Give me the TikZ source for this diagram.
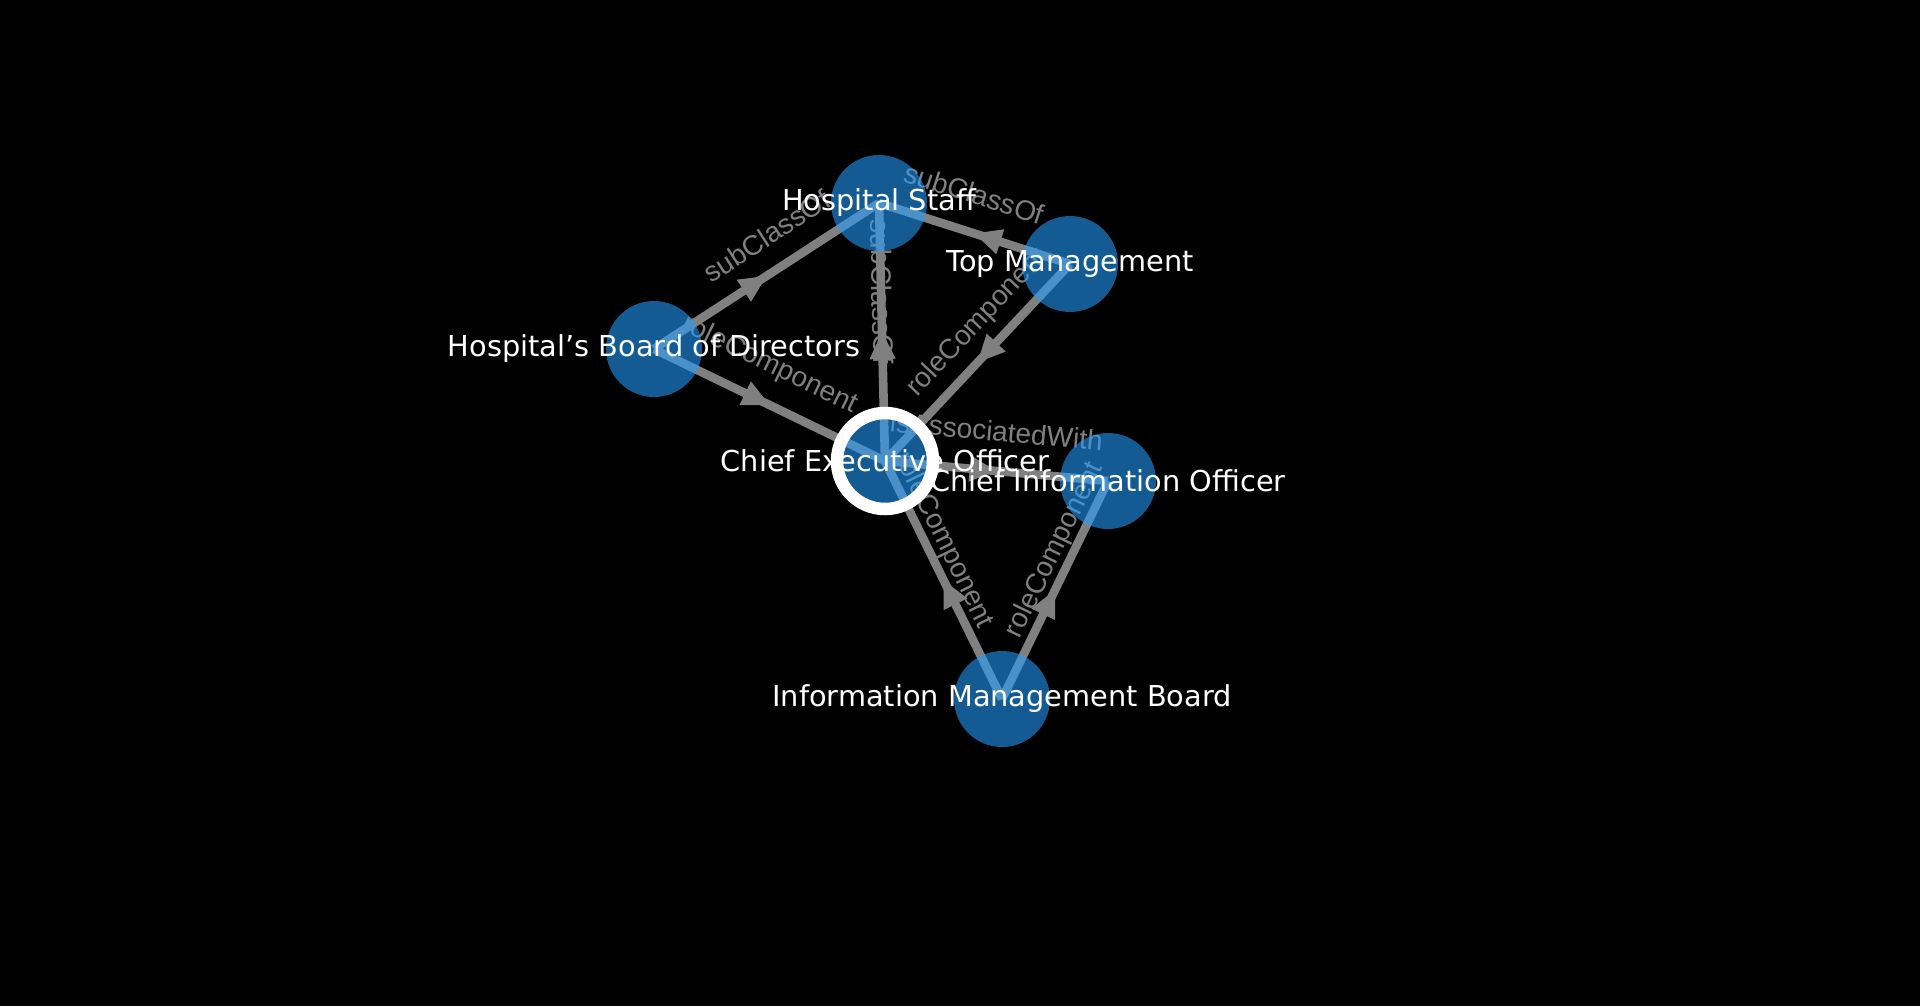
\documentclass[tikz,border=0pt]{standalone}
\usepackage{fontspec}
\setmainfont{DejaVu Sans}
\newfontfamily\edgefont{Liberation Sans}
\usetikzlibrary{arrows.meta, decorations.markings}
\tikzset{>=stealth}
\pgfdeclarelayer{background}
\pgfsetlayers{background,main}
\definecolor{nodeblue}{RGB}{35,158,255}
\definecolor{edgegray}{RGB}{128,128,128}
\tikzset{
  vertex/.style={circle, fill=nodeblue, fill opacity=0.58, minimum size=48pt, inner sep=0pt},
  vlabel/.style={text=white, font=\fontsize{14.4}{16}\selectfont},
  link/.style={edgegray, line width=4.3pt},
  midarrow/.style={postaction={decorate, decoration={markings,
      mark=at position 0.5 with {\arrow{Triangle[length=13.5pt, width=13pt, line width=0.5pt]}}}}},
  elabel/.style={midway, sloped, text=edgegray, inner sep=0pt, font=\edgefont\fontsize{14}{16}\selectfont},
}

\begin{document}
\begin{tikzpicture}[x=50pt, y=-50pt]
    \begin{pgfonlayer}{background}
    \fill[black] (0,0) rectangle (19.2,10.06);
    \end{pgfonlayer}
    \useasboundingbox (0,0) rectangle (19.2,10.06);

    \node[vertex, label={[vlabel]center:Hospital Staff}] (hs) at (8.79,2.03) {};
    \node[vertex, label={[vlabel]center:Top Management}] (tm) at (10.70,2.64) {};
    \node[vertex, label={[vlabel]center:Hospital’s Board of Directors}] (bod) at (6.54,3.49) {};
    \node[vertex, draw=white, line width=6.25pt, label={[vlabel]center:Chief Executive Officer}] (ceo) at (8.85,4.61) {};
    \node[vertex, label={[vlabel]center:Chief Information Officer}] (cio) at (11.08,4.81) {};
    \node[vertex, label={[vlabel]center:Information Management Board}] (imb) at (10.02,6.99) {};

    \begin{pgfonlayer}{background}
    \draw[link, midarrow] (bod.center) -- (hs.center);
    \draw[link, midarrow] (tm.center) -- (hs.center);
    \draw[link, midarrow] (ceo.center) -- (hs.center);
    \draw[link, midarrow] (bod.center) -- (ceo.center);
    \draw[link, midarrow] (tm.center) -- (ceo.center);
    \draw[link, midarrow] (ceo.center) -- (cio.center);
    \draw[link, midarrow] (imb.center) -- (ceo.center);
    \draw[link, midarrow] (imb.center) -- (cio.center);

    % edge names sit a little above each line
    \path ([yshift=20pt]bod.center) -- ([yshift=20pt]hs.center) node[elabel] {subClassOf};
    \path ([yshift=20pt]tm.center) -- ([yshift=20pt]hs.center) node[elabel] {subClassOf};
    \path ([yshift=20pt]ceo.center) -- ([yshift=20pt]hs.center) node[elabel] {subClassOf};
    \path ([yshift=20pt]bod.center) -- ([yshift=20pt]ceo.center) node[elabel] {roleComponent};
    \path ([yshift=20pt]tm.center) -- ([yshift=20pt]ceo.center) node[elabel] {roleComponent};
    \path ([yshift=20pt]ceo.center) -- ([yshift=20pt]cio.center) node[elabel] {isAssociatedWith};
    \path ([yshift=20pt]imb.center) -- ([yshift=20pt]ceo.center) node[elabel] {roleComponent};
    \path ([yshift=20pt]imb.center) -- ([yshift=20pt]cio.center) node[elabel] {roleComponent};
    \end{pgfonlayer}
\end{tikzpicture}
\end{document}
